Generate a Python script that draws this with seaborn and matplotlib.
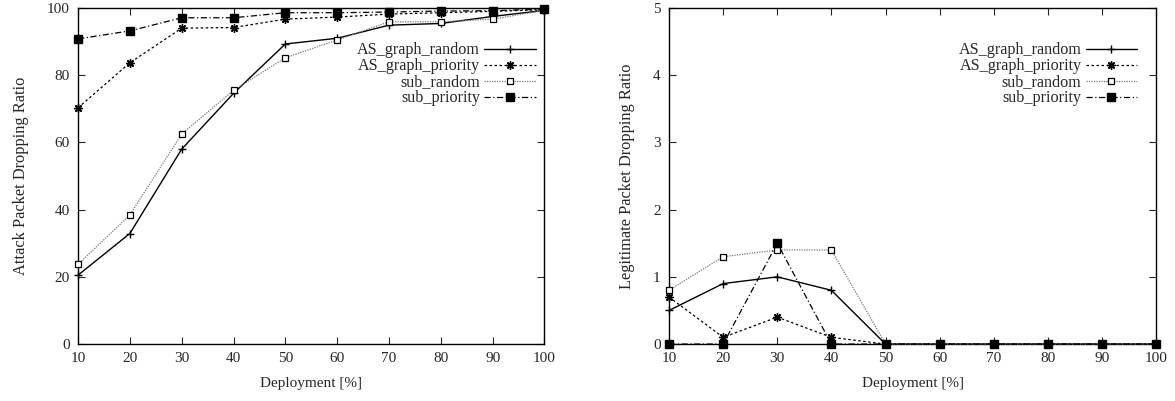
import matplotlib
matplotlib.use("Agg")
import matplotlib.pyplot as plt
import seaborn as sns
import pandas as pd

# deployment levels (%)
deployment = [10, 20, 30, 40, 50, 60, 70, 80, 90, 100]

# attack packet dropping ratio
attack_as_random = [20.5, 32.9, 58.0, 74.6, 89.3, 91.0, 94.9, 95.4, 97.5, 99.3]
attack_as_priority = [70.3, 83.7, 94.0, 94.2, 96.7, 97.3, 98.2, 98.6, 99.0, 99.5]
attack_sub_random = [23.7, 38.4, 62.5, 75.5, 85.2, 90.5, 95.9, 95.9, 96.7, 99.3]
attack_sub_priority = [90.8, 93.2, 97.1, 97.1, 98.6, 98.6, 98.8, 99.1, 99.2, 99.7]

# legitimate packet dropping ratio
legit_as_random = [0.5, 0.9, 1.0, 0.8, 0.0, 0.0, 0.0, 0.0, 0.0, 0.0]
legit_as_priority = [0.7, 0.1, 0.4, 0.1, 0.0, 0.0, 0.0, 0.0, 0.0, 0.0]
legit_sub_random = [0.8, 1.3, 1.4, 1.4, 0.0, 0.0, 0.0, 0.0, 0.0, 0.0]
legit_sub_priority = [0.0, 0.0, 1.5, 0.0, 0.0, 0.0, 0.0, 0.0, 0.0, 0.0]

series_names = ["AS_graph_random", "AS_graph_priority", "sub_random", "sub_priority"]

sns.set_style("ticks")
plt.rcParams["font.family"] = ["Liberation Serif", "DejaVu Serif"]
plt.rcParams["xtick.direction"] = "in"
plt.rcParams["ytick.direction"] = "in"

# gnuplot-like styles for each series
styles = {
    "AS_graph_random": dict(color="black", linestyle="-", marker="+", ms=6,
                            mfc="black", mec="black", lw=1.0),
    "AS_graph_priority": dict(color="black", linestyle=(0, (2, 2)), marker=(8, 2, 0),
                              ms=6, mfc="black", mec="black", lw=0.9),
    "sub_random": dict(color="#777777", linestyle=(0, (1, 1)), marker="s", ms=5,
                       mfc="white", mec="black", mew=0.9, lw=0.9),
    "sub_priority": dict(color="black", linestyle=(0, (5, 2, 1, 2)), marker="s",
                         ms=6, mfc="black", mec="black", lw=0.9),
}


def draw_panel(ax, values, ylim, yticks, ylabel, leg_x):
    df = pd.DataFrame({"Deployment": deployment * 4,
                       "Ratio": sum(values, []),
                       "Series": [n for n in series_names for _ in deployment]})
    for name in series_names:
        sub = df[df["Series"] == name]
        st = styles[name]
        sns.lineplot(data=sub, x="Deployment", y="Ratio", ax=ax, label=name,
                     color=st["color"], linestyle=st["linestyle"], lw=st["lw"],
                     marker=st["marker"], markersize=st["ms"],
                     markerfacecolor=st["mfc"], markeredgecolor=st["mec"],
                     markeredgewidth=st.get("mew", 1.0), clip_on=False,
                     zorder=3)
    ax.set_xlim(10, 100)
    ax.set_ylim(*ylim)
    ax.set_xticks(deployment)
    ax.set_yticks(yticks)
    ax.tick_params(top=True, right=True, labelsize=11, length=5, width=0.8, pad=6)
    for s in ax.spines.values():
        s.set_linewidth(1.0)
        s.set_color("black")
    ax.set_xlabel("Deployment [%]", fontsize=11, labelpad=8)
    ax.set_ylabel(ylabel, fontsize=11.8, labelpad=13)
    leg = ax.legend(loc="upper right", markerfirst=False, frameon=False,
                    fontsize=11.6, handlelength=3.2, handletextpad=0.25,
                    labelspacing=0.0, borderpad=0, borderaxespad=0,
                    bbox_to_anchor=(leg_x, 0.898))
    for t in leg.get_texts():
        t.set_ha("right")
    leg._legend_box.align = "right"


fig = plt.figure(figsize=(11.75, 4.01), dpi=100)
ax1 = fig.add_axes([0.0664, 0.142, 0.397, 0.838])
ax2 = fig.add_axes([0.5694, 0.142, 0.4145, 0.838])

draw_panel(ax1, [attack_as_random, attack_as_priority, attack_sub_random, attack_sub_priority],
           (0, 100), [0, 20, 40, 60, 80, 100], "Attack Packet Dropping Ratio", 0.981)
draw_panel(ax2, [legit_as_random, legit_as_priority, legit_sub_random, legit_sub_priority],
           (0, 5), [0, 1, 2, 3, 4, 5], "Legitimate Packet Dropping Ratio", 0.961)

fig.savefig("out.png", dpi=100)
